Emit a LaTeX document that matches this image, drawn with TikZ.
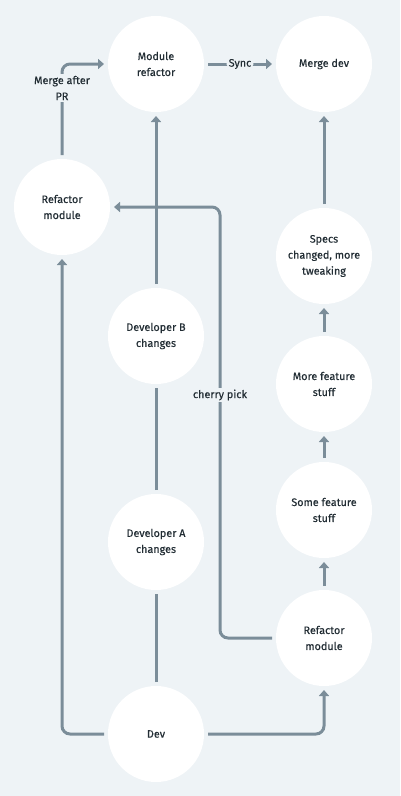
\documentclass[tikz,border=0pt]{standalone}
\usepackage{fontspec}
\setmainfont{Fira Sans}[FakeBold=0.4]
\usetikzlibrary{arrows.meta}
\definecolor{bg}{HTML}{EEF3F6}
\definecolor{ln}{HTML}{7B8D99}
\definecolor{tx}{HTML}{222D34}
\begin{document}
\begin{tikzpicture}[x=1pt,y=-1pt,
  nd/.style={circle,fill=white,minimum size=96pt,inner sep=0pt,outer sep=4pt,align=center,font=\fontsize{10.8}{16}\selectfont,text=tx},
  conn/.style={draw=ln,line width=3pt,rounded corners=8pt},
  arr/.style={conn,-{Triangle[length=6pt,width=10pt]}},
  lbl/.style={fill=bg,inner sep=2pt,align=center,font=\fontsize{10.8}{16}\selectfont,text=tx}]
\fill[bg] (0,0) rectangle (400,796);
\useasboundingbox (0,0) rectangle (400,796);
\node[nd] (mr) at (156,64) {Module\\refactor};
\node[nd] (md) at (324,64) {Merge dev};
\node[nd] (lr) at (62,207) {Refactor\\module};
\node[nd] (sp) at (324,256) {Specs\\changed, more\\tweaking};
\node[nd] (db) at (156,336) {Developer B\\changes};
\node[nd] (mf) at (324,384) {More feature\\stuff};
\node[nd] (sf) at (324,510) {Some feature\\stuff};
\node[nd] (da) at (156,542) {Developer A\\changes};
\node[nd] (rr) at (324,638) {Refactor\\module};
\node[nd] (dev) at (156,734) {Dev};
\coordinate (cp) at (220,207);
\draw[arr] (dev.west) -| (lr.south);
\draw[arr] (dev.east) -| (rr.south);
\draw[conn] (dev.north) -- (da.south);
\draw[conn] (da.north) -- (db.south);
\draw[arr] (db.north) -- (mr.south);
\draw[arr] (rr.west) -| (cp) -- (lr.east);
\node[lbl] (cpl) at (220,395) {cherry pick};
\draw[arr] (lr.north) |- (mr.west);
\node[lbl] (mpl) at (62,88) {Merge after\\PR};
\draw[arr] (mr.east) -- node[lbl] (syn) {Sync} (md.west);
\draw[arr] (sp.north) -- (md.south);
\draw[arr] (mf.north) -- (sp.south);
\draw[arr] (sf.north) -- (mf.south);
\draw[arr] (rr.north) -- (sf.south);
\end{tikzpicture}
\end{document}
